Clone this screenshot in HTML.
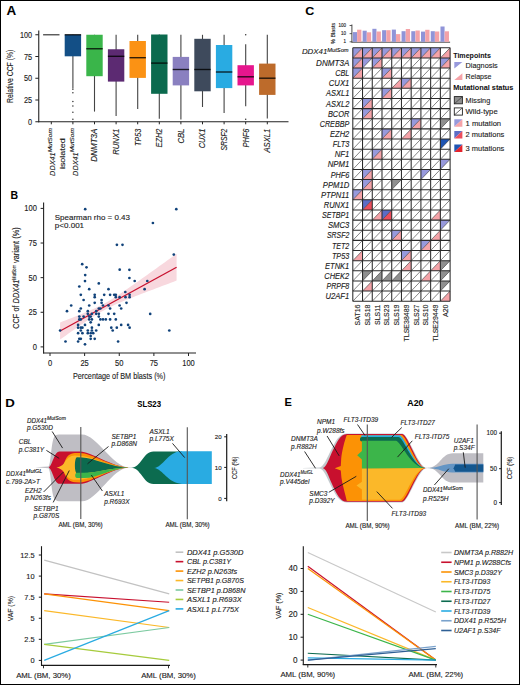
<!DOCTYPE html>
<html><head><meta charset="utf-8"><style>
html,body{margin:0;padding:0;background:#fff;}
svg{display:block;}
text{font-family:"Liberation Sans", sans-serif;stroke:#1a1a1a;stroke-width:0.12px;paint-order:stroke;}
.b{stroke-width:0.05px;}
.it{font-style:italic;}
.b{font-weight:bold;}
</style></head><body>
<svg width="520" height="685" viewBox="0 0 520 685">
<rect x="0" y="0" width="520" height="685" fill="#fff"/>

<text transform="translate(6.6,14.8) scale(1.12,1)" font-size="12" class="b">A</text>
<line x1="38.75" y1="30.4" x2="38.75" y2="122.3" stroke="#222" stroke-width="1.1"/>
<line x1="38.25" y1="121.75" x2="288.5" y2="121.75" stroke="#222" stroke-width="1.1"/>
<line x1="35.35" y1="121.75" x2="38.75" y2="121.75" stroke="#222" stroke-width="1"/>
<text x="32.1" y="124.75" font-size="8.4" text-anchor="end" fill="#1a1a1a" textLength="4.1" lengthAdjust="spacingAndGlyphs">0</text>
<line x1="35.35" y1="100.0" x2="38.75" y2="100.0" stroke="#222" stroke-width="1"/>
<text x="32.1" y="103.00" font-size="8.4" text-anchor="end" fill="#1a1a1a" textLength="8.2" lengthAdjust="spacingAndGlyphs">25</text>
<line x1="35.35" y1="78.25" x2="38.75" y2="78.25" stroke="#222" stroke-width="1"/>
<text x="32.1" y="81.25" font-size="8.4" text-anchor="end" fill="#1a1a1a" textLength="8.2" lengthAdjust="spacingAndGlyphs">50</text>
<line x1="35.35" y1="56.5" x2="38.75" y2="56.5" stroke="#222" stroke-width="1"/>
<text x="32.1" y="59.50" font-size="8.4" text-anchor="end" fill="#1a1a1a" textLength="8.2" lengthAdjust="spacingAndGlyphs">75</text>
<line x1="35.35" y1="34.75" x2="38.75" y2="34.75" stroke="#222" stroke-width="1"/>
<text x="32.1" y="37.75" font-size="8.4" text-anchor="end" fill="#1a1a1a" textLength="12.1" lengthAdjust="spacingAndGlyphs">100</text>
<text transform="translate(12.9,102.9) rotate(-90)" font-size="9" fill="#1a1a1a" textLength="53.2" lengthAdjust="spacingAndGlyphs">Relative CCF (%)</text>
<line x1="51.30" y1="121.75" x2="51.30" y2="124.3" stroke="#222" stroke-width="1"/>
<line x1="72.90" y1="121.75" x2="72.90" y2="124.3" stroke="#222" stroke-width="1"/>
<line x1="94.50" y1="121.75" x2="94.50" y2="124.3" stroke="#222" stroke-width="1"/>
<line x1="116.10" y1="121.75" x2="116.10" y2="124.3" stroke="#222" stroke-width="1"/>
<line x1="137.70" y1="121.75" x2="137.70" y2="124.3" stroke="#222" stroke-width="1"/>
<line x1="159.30" y1="121.75" x2="159.30" y2="124.3" stroke="#222" stroke-width="1"/>
<line x1="180.90" y1="121.75" x2="180.90" y2="124.3" stroke="#222" stroke-width="1"/>
<line x1="202.50" y1="121.75" x2="202.50" y2="124.3" stroke="#222" stroke-width="1"/>
<line x1="224.10" y1="121.75" x2="224.10" y2="124.3" stroke="#222" stroke-width="1"/>
<line x1="245.70" y1="121.75" x2="245.70" y2="124.3" stroke="#222" stroke-width="1"/>
<line x1="267.30" y1="121.75" x2="267.30" y2="124.3" stroke="#222" stroke-width="1"/>
<line x1="43.10" y1="34.75" x2="59.50" y2="34.75" stroke="#555" stroke-width="1.4"/>
<line x1="72.90" y1="34.75" x2="72.90" y2="88.4" stroke="#444" stroke-width="1.1"/>
<rect x="64.70" y="34.75" width="16.4" height="21.55" fill="#134f86"/>
<line x1="64.70" y1="34.75" x2="81.10" y2="34.75" stroke="#000" stroke-opacity="0.8" stroke-width="1.4"/>
<line x1="94.50" y1="34.75" x2="94.50" y2="111.6" stroke="#444" stroke-width="1.1"/>
<rect x="86.30" y="34.75" width="16.4" height="41.45" fill="#3ab54a"/>
<line x1="86.30" y1="48.75" x2="102.70" y2="48.75" stroke="#000" stroke-opacity="0.8" stroke-width="1.4"/>
<line x1="116.10" y1="34.75" x2="116.10" y2="116" stroke="#444" stroke-width="1.1"/>
<rect x="107.90" y="49.25" width="16.4" height="32.35" fill="#5c2a72"/>
<line x1="107.90" y1="56.3" x2="124.30" y2="56.3" stroke="#000" stroke-opacity="0.8" stroke-width="1.4"/>
<line x1="137.70" y1="34.8" x2="137.70" y2="108.9" stroke="#444" stroke-width="1.1"/>
<rect x="129.50" y="41" width="16.4" height="36.90" fill="#fb9214"/>
<line x1="129.50" y1="57.7" x2="145.90" y2="57.7" stroke="#000" stroke-opacity="0.8" stroke-width="1.4"/>
<line x1="159.30" y1="34.5" x2="159.30" y2="118.8" stroke="#444" stroke-width="1.1"/>
<rect x="151.10" y="34.5" width="16.4" height="59.30" fill="#0b6a4e"/>
<line x1="151.10" y1="63.1" x2="167.50" y2="63.1" stroke="#000" stroke-opacity="0.8" stroke-width="1.4"/>
<line x1="180.90" y1="34.8" x2="180.90" y2="119.6" stroke="#444" stroke-width="1.1"/>
<rect x="172.70" y="56.9" width="16.4" height="28.50" fill="#8a80c0"/>
<line x1="172.70" y1="69.5" x2="189.10" y2="69.5" stroke="#000" stroke-opacity="0.8" stroke-width="1.4"/>
<line x1="202.50" y1="34.8" x2="202.50" y2="107" stroke="#444" stroke-width="1.1"/>
<rect x="194.30" y="38.8" width="16.4" height="52.50" fill="#3e4a5c"/>
<line x1="194.30" y1="69.5" x2="210.70" y2="69.5" stroke="#000" stroke-opacity="0.8" stroke-width="1.4"/>
<line x1="224.10" y1="34.8" x2="224.10" y2="112.9" stroke="#444" stroke-width="1.1"/>
<rect x="215.90" y="45" width="16.4" height="43.10" fill="#29abe2"/>
<line x1="215.90" y1="72" x2="232.30" y2="72" stroke="#000" stroke-opacity="0.8" stroke-width="1.4"/>
<line x1="245.70" y1="44.2" x2="245.70" y2="106.2" stroke="#444" stroke-width="1.1"/>
<rect x="237.50" y="65.2" width="16.4" height="20.20" fill="#e6168d"/>
<line x1="237.50" y1="76.8" x2="253.90" y2="76.8" stroke="#000" stroke-opacity="0.8" stroke-width="1.4"/>
<line x1="267.30" y1="34.7" x2="267.30" y2="118.6" stroke="#444" stroke-width="1.1"/>
<rect x="259.10" y="63.6" width="16.4" height="31.30" fill="#bd6b2b"/>
<line x1="259.10" y1="78.2" x2="275.50" y2="78.2" stroke="#000" stroke-opacity="0.8" stroke-width="1.4"/>
<circle cx="72.90" cy="89.2" r="0.75" fill="#333"/>
<circle cx="72.90" cy="92.8" r="0.75" fill="#333"/>
<circle cx="72.90" cy="101.4" r="0.75" fill="#333"/>
<circle cx="72.90" cy="105.9" r="0.75" fill="#333"/>
<circle cx="72.90" cy="112.2" r="0.75" fill="#333"/>
<circle cx="72.90" cy="119.3" r="0.75" fill="#333"/>
<circle cx="245.70" cy="34.8" r="0.75" fill="#333"/>
<circle cx="245.70" cy="119.2" r="0.75" fill="#333"/>
<text transform="translate(55.10,175.9) rotate(-90)" font-size="8" class="it" fill="#1a1a1a"><tspan textLength="23.6" lengthAdjust="spacingAndGlyphs">DDX41</tspan><tspan font-size="5" dy="-3.4" textLength="24.2" lengthAdjust="spacingAndGlyphs">MutSom</tspan></text>
<text transform="translate(77.70,175.9) rotate(-90)" font-size="8" class="it" fill="#1a1a1a"><tspan textLength="23.6" lengthAdjust="spacingAndGlyphs">DDX41</tspan><tspan font-size="5" dy="-3.4" textLength="24.2" lengthAdjust="spacingAndGlyphs">MutSom</tspan></text>
<text transform="translate(64.9,169.1) rotate(-90)" font-size="8" fill="#1a1a1a" textLength="30.9" lengthAdjust="spacingAndGlyphs">isolated</text>
<text transform="translate(97.45,161.70) rotate(-90)" font-size="8.2" class="it" fill="#1a1a1a" textLength="33.1" lengthAdjust="spacingAndGlyphs">DNMT3A</text>
<text transform="translate(119.05,154.80) rotate(-90)" font-size="8.2" class="it" fill="#1a1a1a" textLength="26.2" lengthAdjust="spacingAndGlyphs">RUNX1</text>
<text transform="translate(140.65,145.90) rotate(-90)" font-size="8.2" class="it" fill="#1a1a1a" textLength="17.3" lengthAdjust="spacingAndGlyphs">TP53</text>
<text transform="translate(162.25,147.50) rotate(-90)" font-size="8.2" class="it" fill="#1a1a1a" textLength="18.9" lengthAdjust="spacingAndGlyphs">EZH2</text>
<text transform="translate(183.85,143.60) rotate(-90)" font-size="8.2" class="it" fill="#1a1a1a" textLength="15" lengthAdjust="spacingAndGlyphs">CBL</text>
<text transform="translate(205.45,148.30) rotate(-90)" font-size="8.2" class="it" fill="#1a1a1a" textLength="19.7" lengthAdjust="spacingAndGlyphs">CUX1</text>
<text transform="translate(227.05,150.60) rotate(-90)" font-size="8.2" class="it" fill="#1a1a1a" textLength="22" lengthAdjust="spacingAndGlyphs">SRSF2</text>
<text transform="translate(248.65,147.50) rotate(-90)" font-size="8.2" class="it" fill="#1a1a1a" textLength="18.9" lengthAdjust="spacingAndGlyphs">PHF6</text>
<text transform="translate(270.25,152.50) rotate(-90)" font-size="8.2" class="it" fill="#1a1a1a" textLength="23.9" lengthAdjust="spacingAndGlyphs">ASXL1</text>
<text x="10.5" y="198.7" font-size="10.5" class="b">B</text>
<line x1="43.6" y1="202.5" x2="43.6" y2="353.6" stroke="#222" stroke-width="1.1"/>
<line x1="43.1" y1="353" x2="196" y2="353" stroke="#222" stroke-width="1.1"/>
<line x1="40.6" y1="346.90" x2="43.6" y2="346.90" stroke="#222" stroke-width="1"/>
<text x="36.9" y="349.90" font-size="8.4" text-anchor="end" fill="#1a1a1a" textLength="4.2" lengthAdjust="spacingAndGlyphs">0</text>
<line x1="50.00" y1="353" x2="50.00" y2="356" stroke="#222" stroke-width="1"/>
<text x="50.00" y="365.8" font-size="8.2" text-anchor="middle" fill="#1a1a1a" textLength="4.2" lengthAdjust="spacingAndGlyphs">0</text>
<line x1="40.6" y1="312.27" x2="43.6" y2="312.27" stroke="#222" stroke-width="1"/>
<text x="36.9" y="315.27" font-size="8.4" text-anchor="end" fill="#1a1a1a" textLength="8.4" lengthAdjust="spacingAndGlyphs">25</text>
<line x1="84.62" y1="353" x2="84.62" y2="356" stroke="#222" stroke-width="1"/>
<text x="84.62" y="365.8" font-size="8.2" text-anchor="middle" fill="#1a1a1a" textLength="8.4" lengthAdjust="spacingAndGlyphs">25</text>
<line x1="40.6" y1="277.65" x2="43.6" y2="277.65" stroke="#222" stroke-width="1"/>
<text x="36.9" y="280.65" font-size="8.4" text-anchor="end" fill="#1a1a1a" textLength="8.4" lengthAdjust="spacingAndGlyphs">50</text>
<line x1="119.25" y1="353" x2="119.25" y2="356" stroke="#222" stroke-width="1"/>
<text x="119.25" y="365.8" font-size="8.2" text-anchor="middle" fill="#1a1a1a" textLength="8.4" lengthAdjust="spacingAndGlyphs">50</text>
<line x1="40.6" y1="243.02" x2="43.6" y2="243.02" stroke="#222" stroke-width="1"/>
<text x="36.9" y="246.02" font-size="8.4" text-anchor="end" fill="#1a1a1a" textLength="8.4" lengthAdjust="spacingAndGlyphs">75</text>
<line x1="153.88" y1="353" x2="153.88" y2="356" stroke="#222" stroke-width="1"/>
<text x="153.88" y="365.8" font-size="8.2" text-anchor="middle" fill="#1a1a1a" textLength="8.4" lengthAdjust="spacingAndGlyphs">75</text>
<line x1="40.6" y1="208.40" x2="43.6" y2="208.40" stroke="#222" stroke-width="1"/>
<text x="36.9" y="211.40" font-size="8.4" text-anchor="end" fill="#1a1a1a" textLength="12.6" lengthAdjust="spacingAndGlyphs">100</text>
<line x1="188.50" y1="353" x2="188.50" y2="356" stroke="#222" stroke-width="1"/>
<text x="188.50" y="365.8" font-size="8.2" text-anchor="middle" fill="#1a1a1a" textLength="12.5" lengthAdjust="spacingAndGlyphs">100</text>
<text x="72.9" y="379" font-size="9.8" fill="#1a1a1a" textLength="92.6" lengthAdjust="spacingAndGlyphs">Percentage of BM blasts (%)</text>
<text transform="translate(19.2,328.8) rotate(-90)" font-size="9" fill="#1a1a1a" textLength="101.5" lengthAdjust="spacingAndGlyphs">CCF of <tspan class="it">DDX41</tspan><tspan font-size="4.8" dy="-3.4">MutSom</tspan><tspan dy="3.4"> variant (%)</tspan></text>
<text x="54.8" y="219.7" font-size="7.6" fill="#1a1a1a" textLength="75.2" lengthAdjust="spacingAndGlyphs">Spearman rho = 0.43</text>
<text x="54.8" y="228.4" font-size="7.6" fill="#1a1a1a" textLength="29.3" lengthAdjust="spacingAndGlyphs">p&lt;0.001</text>
<path d="M60.10,322.48 L63.01,321.36 L65.92,320.23 L68.84,319.10 L71.75,317.97 L74.66,316.82 L77.58,315.66 L80.49,314.48 L83.40,313.28 L86.31,312.06 L89.22,310.81 L92.14,309.52 L95.05,308.18 L97.96,306.78 L100.88,305.31 L103.79,303.76 L106.70,302.13 L109.61,300.42 L112.53,298.64 L115.44,296.80 L118.35,294.91 L121.26,292.97 L124.18,291.01 L127.09,289.02 L130.00,287.01 L132.91,284.98 L135.82,282.94 L138.74,280.89 L141.65,278.83 L144.56,276.77 L147.47,274.70 L150.39,272.62 L153.30,270.54 L156.21,268.45 L159.12,266.37 L162.04,264.28 L164.95,262.18 L167.86,260.09 L170.78,257.99 L173.69,255.90 L176.60,253.80 L176.60,280.60 L173.69,281.69 L170.78,282.79 L167.86,283.88 L164.95,284.98 L162.04,286.07 L159.12,287.17 L156.21,288.28 L153.30,289.38 L150.39,290.49 L147.47,291.60 L144.56,292.72 L141.65,293.85 L138.74,294.98 L135.82,296.12 L132.91,297.27 L130.00,298.43 L127.09,299.61 L124.18,300.81 L121.26,302.04 L118.35,303.29 L115.44,304.59 L112.53,305.94 L109.61,307.35 L106.70,308.83 L103.79,310.39 L100.88,312.03 L97.96,313.75 L95.05,315.54 L92.14,317.39 L89.22,319.29 L86.31,321.23 L83.40,323.20 L80.49,325.19 L77.58,327.20 L74.66,329.23 L71.75,331.27 L68.84,333.33 L65.92,335.39 L63.01,337.45 L60.10,339.52 Z" fill="#f8d8de"/>
<line x1="60.1" y1="331.0" x2="176.6" y2="267.2" stroke="#c8102e" stroke-width="1.3"/>
<circle cx="85.2" cy="209.2" r="1.35" fill="#10427a"/>
<circle cx="176.3" cy="209.2" r="1.35" fill="#10427a"/>
<circle cx="152.9" cy="223" r="1.35" fill="#10427a"/>
<circle cx="116.9" cy="244.8" r="1.35" fill="#10427a"/>
<circle cx="122.5" cy="244.8" r="1.35" fill="#10427a"/>
<circle cx="173.8" cy="254.6" r="1.35" fill="#10427a"/>
<circle cx="82.2" cy="264.2" r="1.35" fill="#10427a"/>
<circle cx="86.5" cy="267.3" r="1.35" fill="#10427a"/>
<circle cx="119.7" cy="269.7" r="1.35" fill="#10427a"/>
<circle cx="129.4" cy="269.8" r="1.35" fill="#10427a"/>
<circle cx="85.2" cy="275.1" r="1.35" fill="#10427a"/>
<circle cx="129.4" cy="278" r="1.35" fill="#10427a"/>
<circle cx="134.7" cy="281" r="1.35" fill="#10427a"/>
<circle cx="147.3" cy="281" r="1.35" fill="#10427a"/>
<circle cx="144.6" cy="289.2" r="1.35" fill="#10427a"/>
<circle cx="150.2" cy="313.9" r="1.35" fill="#10427a"/>
<circle cx="169.3" cy="330.5" r="1.35" fill="#10427a"/>
<circle cx="85" cy="281.1" r="1.35" fill="#10427a"/>
<circle cx="98.8" cy="283.4" r="1.35" fill="#10427a"/>
<circle cx="79.3" cy="286.5" r="1.35" fill="#10427a"/>
<circle cx="89.2" cy="289.2" r="1.35" fill="#10427a"/>
<circle cx="108.5" cy="289.2" r="1.35" fill="#10427a"/>
<circle cx="80.8" cy="294.8" r="1.35" fill="#10427a"/>
<circle cx="94.7" cy="294.8" r="1.35" fill="#10427a"/>
<circle cx="94.7" cy="297.2" r="1.35" fill="#10427a"/>
<circle cx="104.2" cy="294.8" r="1.35" fill="#10427a"/>
<circle cx="110.1" cy="294.8" r="1.35" fill="#10427a"/>
<circle cx="114.2" cy="294.8" r="1.35" fill="#10427a"/>
<circle cx="115.8" cy="294.8" r="1.35" fill="#10427a"/>
<circle cx="115.8" cy="297.2" r="1.35" fill="#10427a"/>
<circle cx="119.6" cy="297.2" r="1.35" fill="#10427a"/>
<circle cx="125.3" cy="292" r="1.35" fill="#10427a"/>
<circle cx="125.5" cy="297.2" r="1.35" fill="#10427a"/>
<circle cx="129.6" cy="294.8" r="1.35" fill="#10427a"/>
<circle cx="129.6" cy="297.2" r="1.35" fill="#10427a"/>
<circle cx="83.6" cy="300" r="1.35" fill="#10427a"/>
<circle cx="94.7" cy="302.8" r="1.35" fill="#10427a"/>
<circle cx="101.6" cy="300" r="1.35" fill="#10427a"/>
<circle cx="101.6" cy="302.8" r="1.35" fill="#10427a"/>
<circle cx="126.5" cy="302.8" r="1.35" fill="#10427a"/>
<circle cx="71.2" cy="305.5" r="1.35" fill="#10427a"/>
<circle cx="89.2" cy="305.5" r="1.35" fill="#10427a"/>
<circle cx="103" cy="305.5" r="1.35" fill="#10427a"/>
<circle cx="108.5" cy="305.5" r="1.35" fill="#10427a"/>
<circle cx="119.6" cy="305.5" r="1.35" fill="#10427a"/>
<circle cx="80.8" cy="308.5" r="1.35" fill="#10427a"/>
<circle cx="79.3" cy="311.2" r="1.35" fill="#10427a"/>
<circle cx="67" cy="311.2" r="1.35" fill="#10427a"/>
<circle cx="98.8" cy="308.5" r="1.35" fill="#10427a"/>
<circle cx="100.4" cy="308.5" r="1.35" fill="#10427a"/>
<circle cx="110.1" cy="308.5" r="1.35" fill="#10427a"/>
<circle cx="121.2" cy="308.5" r="1.35" fill="#10427a"/>
<circle cx="87.8" cy="311.2" r="1.35" fill="#10427a"/>
<circle cx="87.8" cy="313.8" r="1.35" fill="#10427a"/>
<circle cx="91.9" cy="313.8" r="1.35" fill="#10427a"/>
<circle cx="96.2" cy="311.2" r="1.35" fill="#10427a"/>
<circle cx="96.2" cy="313.8" r="1.35" fill="#10427a"/>
<circle cx="98.8" cy="313.8" r="1.35" fill="#10427a"/>
<circle cx="108.5" cy="313.8" r="1.35" fill="#10427a"/>
<circle cx="114.2" cy="313.8" r="1.35" fill="#10427a"/>
<circle cx="79.3" cy="316.6" r="1.35" fill="#10427a"/>
<circle cx="83.6" cy="316.6" r="1.35" fill="#10427a"/>
<circle cx="79.3" cy="319.4" r="1.35" fill="#10427a"/>
<circle cx="80.8" cy="319.4" r="1.35" fill="#10427a"/>
<circle cx="89.2" cy="316.6" r="1.35" fill="#10427a"/>
<circle cx="90.7" cy="316.6" r="1.35" fill="#10427a"/>
<circle cx="89.2" cy="319.4" r="1.35" fill="#10427a"/>
<circle cx="91.9" cy="319.4" r="1.35" fill="#10427a"/>
<circle cx="90.7" cy="322.3" r="1.35" fill="#10427a"/>
<circle cx="98.8" cy="316.6" r="1.35" fill="#10427a"/>
<circle cx="100.4" cy="319.4" r="1.35" fill="#10427a"/>
<circle cx="103" cy="319.4" r="1.35" fill="#10427a"/>
<circle cx="105.8" cy="319.4" r="1.35" fill="#10427a"/>
<circle cx="110.1" cy="319.4" r="1.35" fill="#10427a"/>
<circle cx="115.8" cy="319.4" r="1.35" fill="#10427a"/>
<circle cx="78.1" cy="324.9" r="1.35" fill="#10427a"/>
<circle cx="85" cy="324.9" r="1.35" fill="#10427a"/>
<circle cx="98.8" cy="324.9" r="1.35" fill="#10427a"/>
<circle cx="121.2" cy="324.9" r="1.35" fill="#10427a"/>
<circle cx="128.1" cy="324.9" r="1.35" fill="#10427a"/>
<circle cx="78.1" cy="327.7" r="1.35" fill="#10427a"/>
<circle cx="80.8" cy="327.7" r="1.35" fill="#10427a"/>
<circle cx="82.4" cy="327.7" r="1.35" fill="#10427a"/>
<circle cx="91.9" cy="327.7" r="1.35" fill="#10427a"/>
<circle cx="111.3" cy="327.7" r="1.35" fill="#10427a"/>
<circle cx="116.8" cy="327.7" r="1.35" fill="#10427a"/>
<circle cx="129.6" cy="327.7" r="1.35" fill="#10427a"/>
<circle cx="60.1" cy="330.5" r="1.35" fill="#10427a"/>
<circle cx="80.8" cy="330.5" r="1.35" fill="#10427a"/>
<circle cx="87.8" cy="330.5" r="1.35" fill="#10427a"/>
<circle cx="91.9" cy="330.5" r="1.35" fill="#10427a"/>
<circle cx="96.2" cy="330.5" r="1.35" fill="#10427a"/>
<circle cx="112.7" cy="330.5" r="1.35" fill="#10427a"/>
<circle cx="78.1" cy="333.2" r="1.35" fill="#10427a"/>
<circle cx="82.4" cy="333.2" r="1.35" fill="#10427a"/>
<circle cx="87.8" cy="333.2" r="1.35" fill="#10427a"/>
<circle cx="90.7" cy="333.2" r="1.35" fill="#10427a"/>
<circle cx="93.2" cy="333.2" r="1.35" fill="#10427a"/>
<circle cx="90.7" cy="336" r="1.35" fill="#10427a"/>
<circle cx="79.3" cy="338.8" r="1.35" fill="#10427a"/>
<circle cx="80.8" cy="338.8" r="1.35" fill="#10427a"/>
<circle cx="90.7" cy="338.8" r="1.35" fill="#10427a"/>
<circle cx="94.7" cy="338.8" r="1.35" fill="#10427a"/>
<circle cx="65.5" cy="341.5" r="1.35" fill="#10427a"/>
<circle cx="78.1" cy="341.5" r="1.35" fill="#10427a"/>
<circle cx="118.1" cy="341.5" r="1.35" fill="#10427a"/>
<circle cx="85" cy="344.3" r="1.35" fill="#10427a"/>
<text transform="translate(305.3,15) scale(1.12,1)" font-size="11.2" class="b">C</text>
<polygon points="352.80,47.80 362.53,47.80 352.80,57.94" fill="#9799dc"/>
<polygon points="362.53,47.80 362.53,57.94 352.80,57.94" fill="#f5a3a8"/>
<polygon points="362.53,47.80 372.26,47.80 362.53,57.94" fill="#9799dc"/>
<polygon points="372.26,47.80 372.26,57.94 362.53,57.94" fill="#f5a3a8"/>
<polygon points="372.26,47.80 381.99,47.80 372.26,57.94" fill="#9799dc"/>
<polygon points="381.99,47.80 381.99,57.94 372.26,57.94" fill="#f5a3a8"/>
<polygon points="381.99,47.80 391.72,47.80 381.99,57.94" fill="#9799dc"/>
<polygon points="391.72,47.80 391.72,57.94 381.99,57.94" fill="#f5a3a8"/>
<polygon points="391.72,47.80 401.45,47.80 391.72,57.94" fill="#9799dc"/>
<polygon points="401.45,47.80 401.45,57.94 391.72,57.94" fill="#f5a3a8"/>
<polygon points="401.45,47.80 411.18,47.80 401.45,57.94" fill="#9799dc"/>
<polygon points="411.18,47.80 411.18,57.94 401.45,57.94" fill="#f5a3a8"/>
<polygon points="411.18,47.80 420.91,47.80 411.18,57.94" fill="#9799dc"/>
<polygon points="420.91,47.80 420.91,57.94 411.18,57.94" fill="#f5a3a8"/>
<polygon points="420.91,47.80 430.64,47.80 420.91,57.94" fill="#9799dc"/>
<polygon points="430.64,47.80 430.64,57.94 420.91,57.94" fill="#f5a3a8"/>
<polygon points="430.64,47.80 440.37,47.80 430.64,57.94" fill="#9799dc"/>
<polygon points="440.37,47.80 440.37,57.94 430.64,57.94" fill="#f5a3a8"/>
<polygon points="450.10,47.80 450.10,57.94 440.37,57.94" fill="#f5a3a8"/>
<polygon points="352.80,57.94 362.53,57.94 352.80,68.07" fill="#9799dc"/>
<polygon points="362.53,57.94 362.53,68.07 352.80,68.07" fill="#f5a3a8"/>
<polygon points="362.53,57.94 372.26,57.94 362.53,68.07" fill="#9799dc"/>
<polygon points="372.26,57.94 381.99,57.94 372.26,68.07" fill="#9799dc"/>
<polygon points="381.99,57.94 381.99,68.07 372.26,68.07" fill="#f5a3a8"/>
<polygon points="440.37,57.94 450.10,57.94 440.37,68.07" fill="#9799dc"/>
<polygon points="450.10,57.94 450.10,68.07 440.37,68.07" fill="#f5a3a8"/>
<polygon points="352.80,68.07 362.53,68.07 352.80,78.21" fill="#9799dc"/>
<polygon points="362.53,68.07 362.53,78.21 352.80,78.21" fill="#f5a3a8"/>
<polygon points="381.99,68.07 391.72,68.07 381.99,78.21" fill="#9799dc"/>
<polygon points="391.72,68.07 391.72,78.21 381.99,78.21" fill="#f5a3a8"/>
<polygon points="401.45,78.21 401.45,88.34 391.72,88.34" fill="#f5a3a8"/>
<polygon points="401.45,78.21 411.18,78.21 401.45,88.34" fill="#9799dc"/>
<polygon points="411.18,78.21 411.18,88.34 401.45,88.34" fill="#f5a3a8"/>
<polygon points="381.99,88.34 391.72,88.34 381.99,98.48" fill="#9799dc"/>
<polygon points="391.72,88.34 391.72,98.48 381.99,98.48" fill="#f5a3a8"/>
<polygon points="362.53,98.48 372.26,98.48 362.53,108.62" fill="#9799dc"/>
<polygon points="372.26,98.48 372.26,108.62 362.53,108.62" fill="#f5a3a8"/>
<polygon points="362.53,108.62 372.26,108.62 362.53,118.75" fill="#9799dc"/>
<polygon points="372.26,108.62 372.26,118.75 362.53,118.75" fill="#f5a3a8"/>
<polygon points="411.18,118.75 420.91,118.75 411.18,128.89" fill="#9799dc"/>
<polygon points="420.91,118.75 420.91,128.89 411.18,128.89" fill="#f5a3a8"/>
<polygon points="440.37,118.75 450.10,118.75 440.37,128.89" fill="#8f8f8f"/>
<polygon points="381.99,128.89 391.72,128.89 381.99,139.02" fill="#9799dc"/>
<polygon points="391.72,128.89 391.72,139.02 381.99,139.02" fill="#f5a3a8"/>
<polygon points="411.18,128.89 411.18,139.02 401.45,139.02" fill="#f5a3a8"/>
<polygon points="440.37,139.02 450.10,139.02 440.37,149.16" fill="#1f55b3"/>
<polygon points="372.26,149.16 381.99,149.16 372.26,159.30" fill="#9799dc"/>
<polygon points="381.99,149.16 381.99,159.30 372.26,159.30" fill="#f5a3a8"/>
<polygon points="440.37,159.30 450.10,159.30 440.37,169.43" fill="#9799dc"/>
<polygon points="362.53,169.43 372.26,169.43 362.53,179.57" fill="#9799dc"/>
<polygon points="372.26,169.43 372.26,179.57 362.53,179.57" fill="#f5a3a8"/>
<polygon points="420.91,169.43 430.64,169.43 420.91,179.57" fill="#9799dc"/>
<polygon points="362.53,179.57 372.26,179.57 362.53,189.70" fill="#9799dc"/>
<polygon points="372.26,179.57 372.26,189.70 362.53,189.70" fill="#f5a3a8"/>
<polygon points="391.72,179.57 401.45,179.57 391.72,189.70" fill="#8f8f8f"/>
<polygon points="352.80,189.70 362.53,189.70 352.80,199.84" fill="#9799dc"/>
<polygon points="362.53,189.70 362.53,199.84 352.80,199.84" fill="#f5a3a8"/>
<polygon points="362.53,199.84 372.26,199.84 362.53,209.98" fill="#5c6cc6"/>
<polygon points="372.26,199.84 372.26,209.98 362.53,209.98" fill="#ec4d5c"/>
<polygon points="381.99,209.98 381.99,220.11 372.26,220.11" fill="#f5a3a8"/>
<polygon points="381.99,209.98 391.72,209.98 381.99,220.11" fill="#5c6cc6"/>
<polygon points="391.72,209.98 391.72,220.11 381.99,220.11" fill="#ec4d5c"/>
<polygon points="440.37,209.98 440.37,220.11 430.64,220.11" fill="#f5a3a8"/>
<polygon points="440.37,220.11 450.10,220.11 440.37,230.25" fill="#9799dc"/>
<polygon points="391.72,230.25 401.45,230.25 391.72,240.38" fill="#9799dc"/>
<polygon points="401.45,230.25 401.45,240.38 391.72,240.38" fill="#f5a3a8"/>
<polygon points="440.37,230.25 440.37,240.38 430.64,240.38" fill="#f5a3a8"/>
<polygon points="420.91,240.38 430.64,240.38 420.91,250.52" fill="#9799dc"/>
<polygon points="430.64,240.38 430.64,250.52 420.91,250.52" fill="#f5a3a8"/>
<polygon points="362.53,250.52 362.53,260.66 352.80,260.66" fill="#f5a3a8"/>
<polygon points="401.45,250.52 411.18,250.52 401.45,260.66" fill="#9799dc"/>
<polygon points="411.18,250.52 411.18,260.66 401.45,260.66" fill="#f5a3a8"/>
<polygon points="411.18,260.66 411.18,270.79 401.45,270.79" fill="#f5a3a8"/>
<polygon points="440.37,260.66 440.37,270.79 430.64,270.79" fill="#f5a3a8"/>
<polygon points="440.37,260.66 450.10,260.66 440.37,270.79" fill="#8f8f8f"/>
<polygon points="362.53,270.79 372.26,270.79 362.53,280.93" fill="#8f8f8f"/>
<polygon points="381.99,270.79 381.99,280.93 372.26,280.93" fill="#8f8f8f"/>
<polygon points="391.72,270.79 391.72,280.93 381.99,280.93" fill="#8f8f8f"/>
<polygon points="401.45,270.79 401.45,280.93 391.72,280.93" fill="#8f8f8f"/>
<polygon points="430.64,270.79 430.64,280.93 420.91,280.93" fill="#f5a3a8"/>
<polygon points="440.37,270.79 450.10,270.79 440.37,280.93" fill="#8f8f8f"/>
<polygon points="372.26,280.93 372.26,291.06 362.53,291.06" fill="#f5a3a8"/>
<polygon points="440.37,280.93 450.10,280.93 440.37,291.06" fill="#8f8f8f"/>
<polygon points="450.10,291.06 450.10,301.20 440.37,301.20" fill="#f5a3a8"/>
<path d="M352.80,57.94L362.53,47.80M362.53,57.94L372.26,47.80M372.26,57.94L381.99,47.80M381.99,57.94L391.72,47.80M391.72,57.94L401.45,47.80M401.45,57.94L411.18,47.80M411.18,57.94L420.91,47.80M420.91,57.94L430.64,47.80M430.64,57.94L440.37,47.80M440.37,57.94L450.10,47.80M352.80,68.07L362.53,57.94M362.53,68.07L372.26,57.94M372.26,68.07L381.99,57.94M381.99,68.07L391.72,57.94M391.72,68.07L401.45,57.94M401.45,68.07L411.18,57.94M411.18,68.07L420.91,57.94M420.91,68.07L430.64,57.94M430.64,68.07L440.37,57.94M440.37,68.07L450.10,57.94M352.80,78.21L362.53,68.07M362.53,78.21L372.26,68.07M372.26,78.21L381.99,68.07M381.99,78.21L391.72,68.07M391.72,78.21L401.45,68.07M401.45,78.21L411.18,68.07M411.18,78.21L420.91,68.07M420.91,78.21L430.64,68.07M430.64,78.21L440.37,68.07M440.37,78.21L450.10,68.07M352.80,88.34L362.53,78.21M362.53,88.34L372.26,78.21M372.26,88.34L381.99,78.21M381.99,88.34L391.72,78.21M391.72,88.34L401.45,78.21M401.45,88.34L411.18,78.21M411.18,88.34L420.91,78.21M420.91,88.34L430.64,78.21M430.64,88.34L440.37,78.21M440.37,88.34L450.10,78.21M352.80,98.48L362.53,88.34M362.53,98.48L372.26,88.34M372.26,98.48L381.99,88.34M381.99,98.48L391.72,88.34M391.72,98.48L401.45,88.34M401.45,98.48L411.18,88.34M411.18,98.48L420.91,88.34M420.91,98.48L430.64,88.34M430.64,98.48L440.37,88.34M440.37,98.48L450.10,88.34M352.80,108.62L362.53,98.48M362.53,108.62L372.26,98.48M372.26,108.62L381.99,98.48M381.99,108.62L391.72,98.48M391.72,108.62L401.45,98.48M401.45,108.62L411.18,98.48M411.18,108.62L420.91,98.48M420.91,108.62L430.64,98.48M430.64,108.62L440.37,98.48M440.37,108.62L450.10,98.48M352.80,118.75L362.53,108.62M362.53,118.75L372.26,108.62M372.26,118.75L381.99,108.62M381.99,118.75L391.72,108.62M391.72,118.75L401.45,108.62M401.45,118.75L411.18,108.62M411.18,118.75L420.91,108.62M420.91,118.75L430.64,108.62M430.64,118.75L440.37,108.62M440.37,118.75L450.10,108.62M352.80,128.89L362.53,118.75M362.53,128.89L372.26,118.75M372.26,128.89L381.99,118.75M381.99,128.89L391.72,118.75M391.72,128.89L401.45,118.75M401.45,128.89L411.18,118.75M411.18,128.89L420.91,118.75M420.91,128.89L430.64,118.75M430.64,128.89L440.37,118.75M440.37,128.89L450.10,118.75M352.80,139.02L362.53,128.89M362.53,139.02L372.26,128.89M372.26,139.02L381.99,128.89M381.99,139.02L391.72,128.89M391.72,139.02L401.45,128.89M401.45,139.02L411.18,128.89M411.18,139.02L420.91,128.89M420.91,139.02L430.64,128.89M430.64,139.02L440.37,128.89M440.37,139.02L450.10,128.89M352.80,149.16L362.53,139.02M362.53,149.16L372.26,139.02M372.26,149.16L381.99,139.02M381.99,149.16L391.72,139.02M391.72,149.16L401.45,139.02M401.45,149.16L411.18,139.02M411.18,149.16L420.91,139.02M420.91,149.16L430.64,139.02M430.64,149.16L440.37,139.02M440.37,149.16L450.10,139.02M352.80,159.30L362.53,149.16M362.53,159.30L372.26,149.16M372.26,159.30L381.99,149.16M381.99,159.30L391.72,149.16M391.72,159.30L401.45,149.16M401.45,159.30L411.18,149.16M411.18,159.30L420.91,149.16M420.91,159.30L430.64,149.16M430.64,159.30L440.37,149.16M440.37,159.30L450.10,149.16M352.80,169.43L362.53,159.30M362.53,169.43L372.26,159.30M372.26,169.43L381.99,159.30M381.99,169.43L391.72,159.30M391.72,169.43L401.45,159.30M401.45,169.43L411.18,159.30M411.18,169.43L420.91,159.30M420.91,169.43L430.64,159.30M430.64,169.43L440.37,159.30M440.37,169.43L450.10,159.30M352.80,179.57L362.53,169.43M362.53,179.57L372.26,169.43M372.26,179.57L381.99,169.43M381.99,179.57L391.72,169.43M391.72,179.57L401.45,169.43M401.45,179.57L411.18,169.43M411.18,179.57L420.91,169.43M420.91,179.57L430.64,169.43M430.64,179.57L440.37,169.43M440.37,179.57L450.10,169.43M352.80,189.70L362.53,179.57M362.53,189.70L372.26,179.57M372.26,189.70L381.99,179.57M381.99,189.70L391.72,179.57M391.72,189.70L401.45,179.57M401.45,189.70L411.18,179.57M411.18,189.70L420.91,179.57M420.91,189.70L430.64,179.57M430.64,189.70L440.37,179.57M440.37,189.70L450.10,179.57M352.80,199.84L362.53,189.70M362.53,199.84L372.26,189.70M372.26,199.84L381.99,189.70M381.99,199.84L391.72,189.70M391.72,199.84L401.45,189.70M401.45,199.84L411.18,189.70M411.18,199.84L420.91,189.70M420.91,199.84L430.64,189.70M430.64,199.84L440.37,189.70M440.37,199.84L450.10,189.70M352.80,209.98L362.53,199.84M362.53,209.98L372.26,199.84M372.26,209.98L381.99,199.84M381.99,209.98L391.72,199.84M391.72,209.98L401.45,199.84M401.45,209.98L411.18,199.84M411.18,209.98L420.91,199.84M420.91,209.98L430.64,199.84M430.64,209.98L440.37,199.84M440.37,209.98L450.10,199.84M352.80,220.11L362.53,209.98M362.53,220.11L372.26,209.98M372.26,220.11L381.99,209.98M381.99,220.11L391.72,209.98M391.72,220.11L401.45,209.98M401.45,220.11L411.18,209.98M411.18,220.11L420.91,209.98M420.91,220.11L430.64,209.98M430.64,220.11L440.37,209.98M440.37,220.11L450.10,209.98M352.80,230.25L362.53,220.11M362.53,230.25L372.26,220.11M372.26,230.25L381.99,220.11M381.99,230.25L391.72,220.11M391.72,230.25L401.45,220.11M401.45,230.25L411.18,220.11M411.18,230.25L420.91,220.11M420.91,230.25L430.64,220.11M430.64,230.25L440.37,220.11M440.37,230.25L450.10,220.11M352.80,240.38L362.53,230.25M362.53,240.38L372.26,230.25M372.26,240.38L381.99,230.25M381.99,240.38L391.72,230.25M391.72,240.38L401.45,230.25M401.45,240.38L411.18,230.25M411.18,240.38L420.91,230.25M420.91,240.38L430.64,230.25M430.64,240.38L440.37,230.25M440.37,240.38L450.10,230.25M352.80,250.52L362.53,240.38M362.53,250.52L372.26,240.38M372.26,250.52L381.99,240.38M381.99,250.52L391.72,240.38M391.72,250.52L401.45,240.38M401.45,250.52L411.18,240.38M411.18,250.52L420.91,240.38M420.91,250.52L430.64,240.38M430.64,250.52L440.37,240.38M440.37,250.52L450.10,240.38M352.80,260.66L362.53,250.52M362.53,260.66L372.26,250.52M372.26,260.66L381.99,250.52M381.99,260.66L391.72,250.52M391.72,260.66L401.45,250.52M401.45,260.66L411.18,250.52M411.18,260.66L420.91,250.52M420.91,260.66L430.64,250.52M430.64,260.66L440.37,250.52M440.37,260.66L450.10,250.52M352.80,270.79L362.53,260.66M362.53,270.79L372.26,260.66M372.26,270.79L381.99,260.66M381.99,270.79L391.72,260.66M391.72,270.79L401.45,260.66M401.45,270.79L411.18,260.66M411.18,270.79L420.91,260.66M420.91,270.79L430.64,260.66M430.64,270.79L440.37,260.66M440.37,270.79L450.10,260.66M352.80,280.93L362.53,270.79M362.53,280.93L372.26,270.79M372.26,280.93L381.99,270.79M381.99,280.93L391.72,270.79M391.72,280.93L401.45,270.79M401.45,280.93L411.18,270.79M411.18,280.93L420.91,270.79M420.91,280.93L430.64,270.79M430.64,280.93L440.37,270.79M440.37,280.93L450.10,270.79M352.80,291.06L362.53,280.93M362.53,291.06L372.26,280.93M372.26,291.06L381.99,280.93M381.99,291.06L391.72,280.93M391.72,291.06L401.45,280.93M401.45,291.06L411.18,280.93M411.18,291.06L420.91,280.93M420.91,291.06L430.64,280.93M430.64,291.06L440.37,280.93M440.37,291.06L450.10,280.93M352.80,301.20L362.53,291.06M362.53,301.20L372.26,291.06M372.26,301.20L381.99,291.06M381.99,301.20L391.72,291.06M391.72,301.20L401.45,291.06M401.45,301.20L411.18,291.06M411.18,301.20L420.91,291.06M420.91,301.20L430.64,291.06M430.64,301.20L440.37,291.06M440.37,301.20L450.10,291.06" stroke="#333" stroke-width="0.6" fill="none"/>
<path d="M352.80,47.80V301.20M362.53,47.80V301.20M372.26,47.80V301.20M381.99,47.80V301.20M391.72,47.80V301.20M401.45,47.80V301.20M411.18,47.80V301.20M420.91,47.80V301.20M430.64,47.80V301.20M440.37,47.80V301.20M450.10,47.80V301.20M352.80,47.80H450.10M352.80,57.94H450.10M352.80,68.07H450.10M352.80,78.21H450.10M352.80,88.34H450.10M352.80,98.48H450.10M352.80,108.62H450.10M352.80,118.75H450.10M352.80,128.89H450.10M352.80,139.02H450.10M352.80,149.16H450.10M352.80,159.30H450.10M352.80,169.43H450.10M352.80,179.57H450.10M352.80,189.70H450.10M352.80,199.84H450.10M352.80,209.98H450.10M352.80,220.11H450.10M352.80,230.25H450.10M352.80,240.38H450.10M352.80,250.52H450.10M352.80,260.66H450.10M352.80,270.79H450.10M352.80,280.93H450.10M352.80,291.06H450.10M352.80,301.20H450.10" stroke="#2a2a2a" stroke-width="1.05" fill="none"/>
<text x="301.9" y="54.1" font-size="8" class="it" fill="#1a1a1a"><tspan textLength="25.4" lengthAdjust="spacingAndGlyphs">DDX41</tspan><tspan font-size="5" dy="-2.6" textLength="21.3" lengthAdjust="spacingAndGlyphs">MutSom</tspan></text>
<text x="316.1" y="66.07" font-size="8.2" class="it" fill="#1a1a1a" textLength="33.2" lengthAdjust="spacingAndGlyphs">DNMT3A</text>
<text x="335.2" y="76.21" font-size="8.2" class="it" fill="#1a1a1a" textLength="14.1" lengthAdjust="spacingAndGlyphs">CBL</text>
<text x="328.8" y="86.34" font-size="8.2" class="it" fill="#1a1a1a" textLength="20.5" lengthAdjust="spacingAndGlyphs">CUX1</text>
<text x="326.1" y="96.48" font-size="8.2" class="it" fill="#1a1a1a" textLength="23.2" lengthAdjust="spacingAndGlyphs">ASXL1</text>
<text x="326.1" y="106.62" font-size="8.2" class="it" fill="#1a1a1a" textLength="23.2" lengthAdjust="spacingAndGlyphs">ASXL2</text>
<text x="327.9" y="116.75" font-size="8.2" class="it" fill="#1a1a1a" textLength="21.4" lengthAdjust="spacingAndGlyphs">BCOR</text>
<text x="319.7" y="126.89" font-size="8.2" class="it" fill="#1a1a1a" textLength="29.6" lengthAdjust="spacingAndGlyphs">CREBBP</text>
<text x="330.1" y="137.02" font-size="8.2" class="it" fill="#1a1a1a" textLength="19.2" lengthAdjust="spacingAndGlyphs">EZH2</text>
<text x="332.8" y="147.16" font-size="8.2" class="it" fill="#1a1a1a" textLength="16.5" lengthAdjust="spacingAndGlyphs">FLT3</text>
<text x="334.7" y="157.30" font-size="8.2" class="it" fill="#1a1a1a" textLength="14.6" lengthAdjust="spacingAndGlyphs">NF1</text>
<text x="327.7" y="167.43" font-size="8.2" class="it" fill="#1a1a1a" textLength="21.6" lengthAdjust="spacingAndGlyphs">NPM1</text>
<text x="330.7" y="177.57" font-size="8.2" class="it" fill="#1a1a1a" textLength="18.6" lengthAdjust="spacingAndGlyphs">PHF6</text>
<text x="322.8" y="187.70" font-size="8.2" class="it" fill="#1a1a1a" textLength="26.5" lengthAdjust="spacingAndGlyphs">PPM1D</text>
<text x="321" y="197.84" font-size="8.2" class="it" fill="#1a1a1a" textLength="28.3" lengthAdjust="spacingAndGlyphs">PTPN11</text>
<text x="323.7" y="207.98" font-size="8.2" class="it" fill="#1a1a1a" textLength="25.6" lengthAdjust="spacingAndGlyphs">RUNX1</text>
<text x="321.9" y="218.11" font-size="8.2" class="it" fill="#1a1a1a" textLength="27.4" lengthAdjust="spacingAndGlyphs">SETBP1</text>
<text x="327.9" y="228.25" font-size="8.2" class="it" fill="#1a1a1a" textLength="21.4" lengthAdjust="spacingAndGlyphs">SMC3</text>
<text x="327" y="238.38" font-size="8.2" class="it" fill="#1a1a1a" textLength="22.3" lengthAdjust="spacingAndGlyphs">SRSF2</text>
<text x="331.9" y="248.52" font-size="8.2" class="it" fill="#1a1a1a" textLength="17.4" lengthAdjust="spacingAndGlyphs">TET2</text>
<text x="331.9" y="258.66" font-size="8.2" class="it" fill="#1a1a1a" textLength="17.4" lengthAdjust="spacingAndGlyphs">TP53</text>
<text x="325" y="268.79" font-size="8.2" class="it" fill="#1a1a1a" textLength="24.3" lengthAdjust="spacingAndGlyphs">ETNK1</text>
<text x="324.3" y="278.93" font-size="8.2" class="it" fill="#1a1a1a" textLength="25.0" lengthAdjust="spacingAndGlyphs">CHEK2</text>
<text x="326.5" y="289.06" font-size="8.2" class="it" fill="#1a1a1a" textLength="22.8" lengthAdjust="spacingAndGlyphs">PRPF8</text>
<text x="325.5" y="299.20" font-size="8.2" class="it" fill="#1a1a1a" textLength="23.8" lengthAdjust="spacingAndGlyphs">U2AF1</text>
<text transform="translate(360.17,304.5) rotate(-90)" font-size="7" text-anchor="end" fill="#222">SAT16</text>
<text transform="translate(369.90,304.5) rotate(-90)" font-size="7" text-anchor="end" fill="#222">SLS18</text>
<text transform="translate(379.62,304.5) rotate(-90)" font-size="7" text-anchor="end" fill="#222">SLS11</text>
<text transform="translate(389.36,304.5) rotate(-90)" font-size="7" text-anchor="end" fill="#222">SLS23</text>
<text transform="translate(399.09,304.5) rotate(-90)" font-size="7" text-anchor="end" fill="#222">SLS19</text>
<text transform="translate(408.82,304.5) rotate(-90)" font-size="7" text-anchor="end" fill="#222">TLSE38489</text>
<text transform="translate(418.55,304.5) rotate(-90)" font-size="7" text-anchor="end" fill="#222">SLS27</text>
<text transform="translate(428.28,304.5) rotate(-90)" font-size="7" text-anchor="end" fill="#222">SLS10</text>
<text transform="translate(438.00,304.5) rotate(-90)" font-size="7" text-anchor="end" fill="#222">TLSE29449</text>
<text transform="translate(447.74,304.5) rotate(-90)" font-size="7" text-anchor="end" fill="#222">A20</text>
<line x1="351.9" y1="24.5" x2="351.9" y2="42.4" stroke="#333" stroke-width="0.9"/>
<line x1="351.5" y1="42.2" x2="450.1" y2="42.2" stroke="#333" stroke-width="0.9"/>
<line x1="349.6" y1="25.50" x2="351.9" y2="25.50" stroke="#333" stroke-width="0.8"/>
<text x="346" y="27.10" font-size="4.5" text-anchor="end" fill="#222">100</text>
<line x1="349.6" y1="33.65" x2="351.9" y2="33.65" stroke="#333" stroke-width="0.8"/>
<text x="346" y="35.25" font-size="4.5" text-anchor="end" fill="#222">10</text>
<line x1="349.6" y1="41.80" x2="351.9" y2="41.80" stroke="#333" stroke-width="0.8"/>
<text x="346" y="43.40" font-size="4.5" text-anchor="end" fill="#222">1</text>
<text transform="translate(335.3,33.4) rotate(-90)" font-size="5.4" text-anchor="middle" fill="#222">% Blasts</text>
<rect x="352.90" y="32.1" width="4.1" height="9.70" fill="#9094d8"/>
<rect x="357.10" y="29.7" width="4.3" height="12.10" fill="#f4a2a7"/>
<rect x="362.63" y="30.7" width="4.1" height="11.10" fill="#9094d8"/>
<rect x="366.83" y="32.3" width="4.3" height="9.50" fill="#f4a2a7"/>
<rect x="372.36" y="28.8" width="4.1" height="13.00" fill="#9094d8"/>
<rect x="376.56" y="31.5" width="4.3" height="10.30" fill="#f4a2a7"/>
<rect x="382.09" y="30.2" width="4.1" height="11.60" fill="#9094d8"/>
<rect x="386.29" y="30.2" width="4.3" height="11.60" fill="#f4a2a7"/>
<rect x="391.82" y="29.6" width="4.1" height="12.20" fill="#9094d8"/>
<rect x="396.02" y="34.1" width="4.3" height="7.70" fill="#f4a2a7"/>
<rect x="401.55" y="31.2" width="4.1" height="10.60" fill="#9094d8"/>
<rect x="405.75" y="29.0" width="4.3" height="12.80" fill="#f4a2a7"/>
<rect x="411.28" y="31.2" width="4.1" height="10.60" fill="#9094d8"/>
<rect x="415.48" y="30.5" width="4.3" height="11.30" fill="#f4a2a7"/>
<rect x="421.01" y="31.6" width="4.1" height="10.20" fill="#9094d8"/>
<rect x="425.21" y="29.8" width="4.3" height="12.00" fill="#f4a2a7"/>
<rect x="430.74" y="31.2" width="4.1" height="10.60" fill="#9094d8"/>
<rect x="434.94" y="31.5" width="4.3" height="10.30" fill="#f4a2a7"/>
<rect x="440.47" y="26.5" width="4.1" height="15.30" fill="#9094d8"/>
<rect x="444.67" y="31.3" width="4.3" height="10.50" fill="#f4a2a7"/>
<text x="453.2" y="57.6" font-size="7.8" class="b" fill="#111" textLength="37.7" lengthAdjust="spacingAndGlyphs">Timepoints</text>
<polygon points="454.3,62 462.4,62 454.3,68.5" fill="#9799dc"/>
<text x="465.6" y="68.2" font-size="7.8" fill="#1a1a1a" textLength="32.1" lengthAdjust="spacingAndGlyphs">Diagnosis</text>
<polygon points="462.4,73.3 462.4,80 454.3,80" fill="#f5a3a8"/>
<text x="465.6" y="78.8" font-size="7.8" fill="#1a1a1a" textLength="25.9" lengthAdjust="spacingAndGlyphs">Relapse</text>
<text x="453.2" y="89.7" font-size="7.8" class="b" fill="#111" textLength="60.2" lengthAdjust="spacingAndGlyphs">Mutational status</text>
<polygon points="454.3,96.6 462.4,96.6 454.3,103.8" fill="#8f8f8f"/><polygon points="462.4,96.6 462.4,103.8 454.3,103.8" fill="#8f8f8f"/><rect x="454.3" y="96.6" width="8.1" height="7.20" fill="none" stroke="#222" stroke-width="0.9"/><line x1="454.3" y1="103.8" x2="462.4" y2="96.6" stroke="#222" stroke-width="0.7"/>
<text x="465.6" y="103.2" font-size="7.8" fill="#1a1a1a" textLength="24.6" lengthAdjust="spacingAndGlyphs">Missing</text>
<polygon points="454.3,107.9 462.4,107.9 454.3,115.1" fill="#fff"/><polygon points="462.4,107.9 462.4,115.1 454.3,115.1" fill="#fff"/><rect x="454.3" y="107.9" width="8.1" height="7.20" fill="none" stroke="#222" stroke-width="0.9"/><line x1="454.3" y1="115.1" x2="462.4" y2="107.9" stroke="#222" stroke-width="0.7"/>
<text x="465.6" y="114.1" font-size="7.8" fill="#1a1a1a" textLength="32.1" lengthAdjust="spacingAndGlyphs">Wild-type</text>
<polygon points="454.3,119.3 462.4,119.3 454.3,126.8" fill="#9799dc"/><polygon points="462.4,119.3 462.4,126.8 454.3,126.8" fill="#f5a3a8"/>
<text x="465.6" y="126" font-size="7.8" fill="#1a1a1a" textLength="35.5" lengthAdjust="spacingAndGlyphs">1 mutation</text>
<polygon points="454.3,131 462.4,131 454.3,138.4" fill="#5c6cc6"/><polygon points="462.4,131 462.4,138.4 454.3,138.4" fill="#ec4d5c"/>
<text x="465.6" y="137.4" font-size="7.8" fill="#1a1a1a" textLength="38.7" lengthAdjust="spacingAndGlyphs">2 mutations</text>
<polygon points="454.3,144.4 462.4,144.4 454.3,152" fill="#1f55b3"/><polygon points="462.4,144.4 462.4,152 454.3,152" fill="#e5232c"/>
<text x="465.6" y="150.6" font-size="7.8" fill="#1a1a1a" textLength="38.7" lengthAdjust="spacingAndGlyphs">3 mutations</text>
<text transform="translate(5.3,406.5) scale(1.15,1)" font-size="11.5" class="b">D</text>
<text x="137.3" y="406.7" font-size="8.6" class="b" textLength="23.7" lengthAdjust="spacingAndGlyphs">SLS23</text>
<path d="M35,467.3 L48.5,466.6 C51.5,463 51,436 56,435 Q57,434.5 59,434.5 L82,434.5 C97.00,434.5 112.60,467.4 129.0,467.4 C112.60,467.4 97.00,501.3 82,501.3 L59,501.3 Q57,501.3 56,500.3 C51,499 51.5,472 48.5,468.2 Z" fill="#bfbec4"/>
<path d="M48.8,467.5 C52.8,464.5 54.3,451.5 59.5,451.5 L80,451.5 C91.00,451.5 112.70,467.4 129.0,467.4 C112.70,467.4 91.00,483.8 80,483.8 L59.5,483.8 C54.3,483.8 52.8,470.5 48.8,467.5 Z" fill="#c8102e"/>
<path d="M64,464 C66,456 70,453 75,452.9 L80,453.1 C91.00,453.1 112.20,467.4 129.0,467.4 C112.20,467.4 91.00,482.4 80,482.4 L75,482.3 C70,482 66,479 64,472 Z" fill="#fc9205"/>
<path d="M56.5,467.6 C60,466.8 62,465.8 64,463.2 C67,458.5 70,455.6 75,455.6 L79,455.7 C90.00,455.7 111.50,467.4 129.0,467.4 C111.50,467.4 90.00,479.8 79,479.8 L75,479.8 C70,479.8 67,477 64,472.2 C62,469.6 60,468.4 56.5,467.6 Z" fill="#fbb829"/>
<path d="M77,457.2 L82,457.4 C93.00,457.4 111.50,467.4 129.0,467.4 C112.00,467.4 96,473 82,473.2 L77,473.2 C74.3,473.2 74.3,457.2 77,457.2 Z" fill="#0c6b4f"/>
<path d="M77,472.7 L84,472.7 C98,472.6 112.00,467.4 129.0,467.4 C112.00,468.0 98,477.9 84,478 L77,478 C74.6,478 74.6,472.7 77,472.7 Z" fill="#3cb54a"/>
<line x1="128" y1="467.5" x2="132" y2="467.5" stroke="#d7dde0" stroke-width="0.7"/>
<path d="M131.3,467.8 C141,467.8 143,451.5 153.5,451.5 L182,451.5 L182,484 L153.5,484 C143,484 141,467.8 131.3,467.8 Z" fill="#0c6b4f"/>
<path d="M180.8,451.3 C168,451.8 163,467 154.2,468.1 C163,469.2 168,483.5 182,483.9 L211.8,483.9 L211.8,451.3 Z" fill="#29abe2"/>
<line x1="80.8" y1="427" x2="80.8" y2="519" stroke="#555" stroke-width="1.1"/>
<line x1="187.3" y1="427.3" x2="187.3" y2="519.2" stroke="#555" stroke-width="1.1"/>
<text x="80.5" y="527.3" font-size="6.3" text-anchor="middle" class="" fill="#1a1a1a">AML (BM, 30%)</text>
<text x="187.5" y="527.3" font-size="6.3" text-anchor="middle" class="" fill="#1a1a1a">AML (BM, 30%)</text>
<line x1="226.7" y1="433.9" x2="226.7" y2="501.3" stroke="#1a1a1a" stroke-width="1.2"/>
<line x1="224.2" y1="436.8" x2="226.7" y2="436.8" stroke="#1a1a1a" stroke-width="1"/>
<text x="221.7" y="439.0" font-size="6.2" text-anchor="end" class="" fill="#1a1a1a">20</text>
<line x1="224.2" y1="467.4" x2="226.7" y2="467.4" stroke="#1a1a1a" stroke-width="1"/>
<text x="221.7" y="469.59999999999997" font-size="6.2" text-anchor="end" class="" fill="#1a1a1a">10</text>
<line x1="224.2" y1="498.4" x2="226.7" y2="498.4" stroke="#1a1a1a" stroke-width="1"/>
<text x="221.7" y="500.59999999999997" font-size="6.2" text-anchor="end" class="" fill="#1a1a1a">0</text>
<text transform="translate(236.6,479) rotate(-90)" font-size="7.6" fill="#1a1a1a" textLength="22.4" lengthAdjust="spacingAndGlyphs">CCF (%)</text>
<text x="26.9" y="422.8" font-size="6.5" text-anchor="start" class="it" fill="#1a1a1a"><tspan textLength="20.2" lengthAdjust="spacingAndGlyphs">DDX41</tspan><tspan font-size="4.6" dy="-2.6" textLength="18.8" lengthAdjust="spacingAndGlyphs">MutSom</tspan></text>
<text x="26.9" y="429.5" font-size="6.5" text-anchor="start" class="it" fill="#1a1a1a">p.G530D</text>
<line x1="52.2" y1="431.5" x2="62.6" y2="448.1" stroke="#1a1a1a" stroke-width="0.9"/>
<text x="18.8" y="444.3" font-size="6.5" text-anchor="start" class="it" fill="#1a1a1a">CBL</text>
<text x="18.8" y="451.7" font-size="6.5" text-anchor="start" class="it" fill="#1a1a1a">p.C381Y</text>
<line x1="46.4" y1="450.4" x2="59.2" y2="458.4" stroke="#1a1a1a" stroke-width="0.9"/>
<text x="6.1" y="475.9" font-size="6.5" text-anchor="start" class="it" fill="#1a1a1a"><tspan textLength="19.7" lengthAdjust="spacingAndGlyphs">DDX41</tspan><tspan font-size="4.6" dy="-2.6" textLength="16.6" lengthAdjust="spacingAndGlyphs">MutGL</tspan></text>
<text x="6.1" y="483.5" font-size="6.5" text-anchor="start" class="it" fill="#1a1a1a">c.799-2A&gt;T</text>
<text x="24.9" y="493" font-size="6.5" text-anchor="start" class="it" fill="#1a1a1a">EZH2</text>
<text x="24.9" y="500.4" font-size="6.5" text-anchor="start" class="it" fill="#1a1a1a">p.N263fs</text>
<line x1="43.7" y1="491.9" x2="63.3" y2="472.1" stroke="#1a1a1a" stroke-width="0.9"/>
<text x="33.6" y="510.7" font-size="6.5" text-anchor="start" class="it" fill="#1a1a1a">SETBP1</text>
<text x="33.6" y="518.3" font-size="6.5" text-anchor="start" class="it" fill="#1a1a1a">p.G870S</text>
<line x1="53.2" y1="502.4" x2="69.3" y2="470.5" stroke="#1a1a1a" stroke-width="0.9"/>
<text x="111.4" y="438.5" font-size="6.5" text-anchor="start" class="it" fill="#1a1a1a">SETBP1</text>
<text x="111.4" y="446.3" font-size="6.5" text-anchor="start" class="it" fill="#1a1a1a">p.D868N</text>
<line x1="108.5" y1="446.5" x2="87.5" y2="463.8" stroke="#1a1a1a" stroke-width="0.9"/>
<text x="104.2" y="496.3" font-size="6.5" text-anchor="start" class="it" fill="#1a1a1a">ASXL1</text>
<text x="104.2" y="503.7" font-size="6.5" text-anchor="start" class="it" fill="#1a1a1a">p.R693X</text>
<line x1="102.4" y1="491" x2="91.3" y2="475" stroke="#1a1a1a" stroke-width="0.9"/>
<text x="149.5" y="433.7" font-size="6.5" text-anchor="start" class="it" fill="#1a1a1a">ASXL1</text>
<text x="149.5" y="441.4" font-size="6.5" text-anchor="start" class="it" fill="#1a1a1a">p.L775X</text>
<line x1="172.5" y1="443.4" x2="184.7" y2="457.6" stroke="#1a1a1a" stroke-width="0.9"/>
<line x1="41.5" y1="546.2" x2="41.5" y2="665.9" stroke="#1a1a1a" stroke-width="1.1"/>
<line x1="41" y1="665.4" x2="170" y2="665.4" stroke="#1a1a1a" stroke-width="1.1"/>
<line x1="38.8" y1="660.4" x2="41.5" y2="660.4" stroke="#1a1a1a" stroke-width="1"/>
<text x="34.6" y="663.0" font-size="7.4" text-anchor="end" class="" fill="#1a1a1a">0</text>
<line x1="38.8" y1="639.3249999999999" x2="41.5" y2="639.3249999999999" stroke="#1a1a1a" stroke-width="1"/>
<text x="34.6" y="641.925" font-size="7.4" text-anchor="end" class="" fill="#1a1a1a">2.5</text>
<line x1="38.8" y1="618.25" x2="41.5" y2="618.25" stroke="#1a1a1a" stroke-width="1"/>
<text x="34.6" y="620.85" font-size="7.4" text-anchor="end" class="" fill="#1a1a1a">5</text>
<line x1="38.8" y1="597.175" x2="41.5" y2="597.175" stroke="#1a1a1a" stroke-width="1"/>
<text x="34.6" y="599.775" font-size="7.4" text-anchor="end" class="" fill="#1a1a1a">7.5</text>
<line x1="38.8" y1="576.1" x2="41.5" y2="576.1" stroke="#1a1a1a" stroke-width="1"/>
<text x="34.6" y="578.7" font-size="7.4" text-anchor="end" class="" fill="#1a1a1a">10</text>
<line x1="38.8" y1="555.025" x2="41.5" y2="555.025" stroke="#1a1a1a" stroke-width="1"/>
<text x="34.6" y="557.625" font-size="7.4" text-anchor="end" class="" fill="#1a1a1a">12.5</text>
<line x1="43.5" y1="665.4" x2="43.5" y2="668.3" stroke="#1a1a1a" stroke-width="0.9"/>
<line x1="168.5" y1="665.4" x2="168.5" y2="668.3" stroke="#1a1a1a" stroke-width="0.9"/>
<text x="43.5" y="677.6" font-size="7.8" text-anchor="middle" class="" fill="#1a1a1a">AML (BM, 30%)</text>
<text x="168.5" y="677.6" font-size="7.8" text-anchor="middle" class="" fill="#1a1a1a">AML (BM, 30%)</text>
<text transform="translate(12.7,621.3) rotate(-90)" font-size="7.8" fill="#1a1a1a" textLength="25.3" lengthAdjust="spacingAndGlyphs">VAF (%)</text>
<line x1="44.2" y1="560.083" x2="169.2" y2="593.803" stroke="#c2c2c2" stroke-width="1.2"/>
<line x1="44.2" y1="593.803" x2="169.2" y2="602.233" stroke="#c8102e" stroke-width="1.2"/>
<line x1="44.2" y1="593.803" x2="169.2" y2="610.663" stroke="#fc9205" stroke-width="1.2"/>
<line x1="44.2" y1="610.663" x2="169.2" y2="627.523" stroke="#fbb829" stroke-width="1.2"/>
<line x1="44.2" y1="644.3829999999999" x2="169.2" y2="627.523" stroke="#7ccaa0" stroke-width="1.2"/>
<line x1="44.2" y1="644.3829999999999" x2="169.2" y2="660.4" stroke="#a6cb3c" stroke-width="1.2"/>
<line x1="44.2" y1="660.4" x2="169.2" y2="610.663" stroke="#29abe2" stroke-width="1.2"/>
<line x1="175.6" y1="552.2" x2="183.3" y2="552.2" stroke="#c2c2c2" stroke-width="1.6"/>
<text x="186.9" y="554.8000000000001" font-size="7.6" text-anchor="start" class="it" fill="#1a1a1a" textLength="56.6" lengthAdjust="spacingAndGlyphs">DDX41 p.G530D</text>
<line x1="175.6" y1="561.6500000000001" x2="183.3" y2="561.6500000000001" stroke="#c8102e" stroke-width="1.6"/>
<text x="186.9" y="564.2500000000001" font-size="7.6" text-anchor="start" class="it" fill="#1a1a1a" textLength="44.2" lengthAdjust="spacingAndGlyphs">CBL p.C381Y</text>
<line x1="175.6" y1="571.1" x2="183.3" y2="571.1" stroke="#fc9205" stroke-width="1.6"/>
<text x="186.9" y="573.7" font-size="7.6" text-anchor="start" class="it" fill="#1a1a1a" textLength="50.2" lengthAdjust="spacingAndGlyphs">EZH2 p.N263fs</text>
<line x1="175.6" y1="580.5500000000001" x2="183.3" y2="580.5500000000001" stroke="#fbb829" stroke-width="1.6"/>
<text x="186.9" y="583.1500000000001" font-size="7.6" text-anchor="start" class="it" fill="#1a1a1a" textLength="57" lengthAdjust="spacingAndGlyphs">SETPB1 p.G870S</text>
<line x1="175.6" y1="590.0" x2="183.3" y2="590.0" stroke="#7ccaa0" stroke-width="1.6"/>
<text x="186.9" y="592.6" font-size="7.6" text-anchor="start" class="it" fill="#1a1a1a" textLength="58.5" lengthAdjust="spacingAndGlyphs">SETBP1 p.D868N</text>
<line x1="175.6" y1="599.45" x2="183.3" y2="599.45" stroke="#a6cb3c" stroke-width="1.6"/>
<text x="186.9" y="602.0500000000001" font-size="7.6" text-anchor="start" class="it" fill="#1a1a1a" textLength="54.8" lengthAdjust="spacingAndGlyphs">ASXL1 p.R693X</text>
<line x1="175.6" y1="608.9000000000001" x2="183.3" y2="608.9000000000001" stroke="#29abe2" stroke-width="1.6"/>
<text x="186.9" y="611.5000000000001" font-size="7.6" text-anchor="start" class="it" fill="#1a1a1a" textLength="52.1" lengthAdjust="spacingAndGlyphs">ASXL1 p.L775X</text>
<text x="284.5" y="406" font-size="11" class="b">E</text>
<text x="407.3" y="406.1" font-size="8.6" class="b" textLength="16.2" lengthAdjust="spacingAndGlyphs">A20</text>
<path d="M303,468.1 L319.3,467.6 C324,467.2 327.4,457 331.3,449.6 C335,442.3 339,433.5 346.5,433.5 L402.3,433.5 C408.3,433.5 418.8,468.1 426.8,468.1 C418.8,468.1 408.3,502.5 402.3,502.5 L346.5,502.5 C339,502.5 335,493.8 331.3,486.5 C327.4,479 324,468.9 319.3,468.6 L303,468.3 Z" fill="#c3c9cd"/>
<path d="M322.7,468.1 C326.5,467.6 329.5,457 333,450 C336.5,443 340,433.9 347,433.9 L402.3,433.9 C407.80,433.9 417.80,468.1 425.6,468.1 C417.80,468.1 407.80,501.8 402.3,501.8 L347,501.8 C340,501.8 336.5,493.2 333,486.2 C329.5,479.2 326.5,468.6 322.7,468.1 Z" fill="#c8102e"/>
<path d="M346.8,435.0 L401.3,435.0 C406.80,435.0 416.30,468.1 425.6,468.1 C416.30,468.1 406.80,500.9 401.3,500.9 L346.8,500.9 C345.2,494 342.3,484 341.4,477.5 L340.8,470.6 L334.7,468.3 L340.8,466 L341.2,458.6 C342,451 344.8,440 346.8,435.1 Z" fill="#fc9205"/>
<path d="M361.9,468.2 L425.6,468.1 C414.10,468.1 405.30,499.8 399.8,499.8 L361.9,499.8 L361.9,489.5 L356.5,485.6 L361.9,481.8 Z" fill="#fbb829"/>
<path d="M361.5,435.2 L399.3,435.2 C404.80,435.2 414.30,468.1 425.6,468.1 L385,468.1 L385,438 L361,438 Z" fill="#29abe2"/>
<path d="M362,437.0 L398.3,437.0 C403.80,437.0 413.30,468.1 425.6,468.1 L385,468.1 L385,441.5 L362,441.5 Q359.9,441.5 359.9,439.25 Q359.9,437.0 362,437.0 Z" fill="#0c6b4f"/>
<path d="M361.9,440.8 L395.8,440.8 C400.80,440.8 410.60,468.1 425.6,468.1 L425.6,468.1 L361.9,468.6 L361.9,459.5 L357.2,455.3 L361.9,451 Z" fill="#3cb54a"/>
<line x1="425" y1="467.9" x2="429" y2="467.9" stroke="#d7dde0" stroke-width="0.7"/>
<path d="M427.5,467.9 C440,467.9 441,453.3 453,453.3 L483.3,453.3 L483.3,482.6 L453,482.6 C441,482.6 440,467.9 427.5,467.9 Z" fill="#bfbec4"/>
<path d="M428,468 C440,467.5 443,463.8 452.3,463.7 L483.3,463.7 L483.3,472.5 L452.3,472.5 C443,472.4 440,468.5 428,468 Z" fill="#6495c4"/>
<path d="M453.6,468.2 L455.2,464.6 L483.3,464.6 L483.3,471.7 L455.2,471.7 Z" fill="#14578f"/>
<line x1="367.3" y1="424.5" x2="367.3" y2="521" stroke="#555" stroke-width="1.1"/>
<line x1="477.1" y1="424.4" x2="477.1" y2="519.6" stroke="#555" stroke-width="1.1"/>
<text x="367.5" y="527.8" font-size="6.3" text-anchor="middle" class="" fill="#1a1a1a">AML (BM, 90%)</text>
<text x="477.1" y="527.5" font-size="6.3" text-anchor="middle" class="" fill="#1a1a1a">AML (BM, 22%)</text>
<line x1="501.3" y1="431.2" x2="501.3" y2="504.9" stroke="#1a1a1a" stroke-width="1.2"/>
<line x1="499.1" y1="433.2" x2="501.3" y2="433.2" stroke="#1a1a1a" stroke-width="1"/>
<text x="497.1" y="435.4" font-size="6.3" text-anchor="end" class="" fill="#1a1a1a">100</text>
<line x1="499.1" y1="468.7" x2="501.3" y2="468.7" stroke="#1a1a1a" stroke-width="1"/>
<text x="497.1" y="470.9" font-size="6.3" text-anchor="end" class="" fill="#1a1a1a">50</text>
<line x1="499.1" y1="502.6" x2="501.3" y2="502.6" stroke="#1a1a1a" stroke-width="1"/>
<text x="497.1" y="504.8" font-size="6.3" text-anchor="end" class="" fill="#1a1a1a">0</text>
<text transform="translate(512.2,479.2) rotate(-90)" font-size="7.6" fill="#1a1a1a" textLength="22.4" lengthAdjust="spacingAndGlyphs">CCF (%)</text>
<text x="317.1" y="424.2" font-size="6.5" text-anchor="start" class="it" fill="#1a1a1a">NPM1</text>
<text x="317.1" y="432.5" font-size="6.5" text-anchor="start" class="it" fill="#1a1a1a">p.W288fs</text>
<line x1="327.1" y1="436" x2="339.2" y2="455.9" stroke="#1a1a1a" stroke-width="0.9"/>
<text x="291.1" y="441.2" font-size="6.5" text-anchor="start" class="it" fill="#1a1a1a">DNMT3A</text>
<text x="291.1" y="448.9" font-size="6.5" text-anchor="start" class="it" fill="#1a1a1a">p.R882H</text>
<line x1="304.6" y1="451.5" x2="315.5" y2="468.3" stroke="#1a1a1a" stroke-width="0.9"/>
<text x="280.1" y="476.8" font-size="6.5" text-anchor="start" class="it" fill="#1a1a1a"><tspan textLength="20.5" lengthAdjust="spacingAndGlyphs">DDX41</tspan><tspan font-size="4.6" dy="-2.6" textLength="12.5" lengthAdjust="spacingAndGlyphs">MutGL</tspan></text>
<text x="280.1" y="484.2" font-size="6.5" text-anchor="start" class="it" fill="#1a1a1a">p.V445del</text>
<text x="309.3" y="495.6" font-size="6.5" text-anchor="start" class="it" fill="#1a1a1a">SMC3</text>
<text x="309.3" y="503" font-size="6.5" text-anchor="start" class="it" fill="#1a1a1a">p.D392Y</text>
<line x1="328.8" y1="492.3" x2="356.3" y2="476.3" stroke="#1a1a1a" stroke-width="0.9"/>
<text x="343.6" y="421.8" font-size="6.5" text-anchor="start" class="it" fill="#1a1a1a">FLT3-ITD39</text>
<line x1="357.5" y1="424.5" x2="365" y2="435.5" stroke="#1a1a1a" stroke-width="0.9"/>
<text x="400.4" y="424.8" font-size="6.5" text-anchor="start" class="it" fill="#1a1a1a">FLT3-ITD27</text>
<line x1="401.8" y1="427.5" x2="391.6" y2="437.4" stroke="#1a1a1a" stroke-width="0.9"/>
<text x="414.8" y="439" font-size="6.5" text-anchor="start" class="it" fill="#1a1a1a">FLT3-ITD75</text>
<line x1="412.3" y1="440.8" x2="397.5" y2="457.1" stroke="#1a1a1a" stroke-width="0.9"/>
<text x="391.6" y="515.5" font-size="6.5" text-anchor="start" class="it" fill="#1a1a1a">FLT3-ITD93</text>
<line x1="392.5" y1="508.4" x2="376.8" y2="491.6" stroke="#1a1a1a" stroke-width="0.9"/>
<text x="453.7" y="442.5" font-size="6.5" text-anchor="start" class="it" fill="#1a1a1a">U2AF1</text>
<text x="453.7" y="450" font-size="6.5" text-anchor="start" class="it" fill="#1a1a1a">p.S34F</text>
<line x1="463.3" y1="452.3" x2="465.2" y2="467.7" stroke="#1a1a1a" stroke-width="0.9"/>
<text x="422.9" y="492.3" font-size="6.5" text-anchor="start" class="it" fill="#1a1a1a"><tspan textLength="20.2" lengthAdjust="spacingAndGlyphs">DDX41</tspan><tspan font-size="4.6" dy="-2.6" textLength="19.8" lengthAdjust="spacingAndGlyphs">MutSom</tspan></text>
<text x="422.9" y="500.6" font-size="6.5" text-anchor="start" class="it" fill="#1a1a1a">p.R525H</text>
<line x1="434.4" y1="485" x2="448.8" y2="468.7" stroke="#1a1a1a" stroke-width="0.9"/>
<line x1="303.3" y1="546.2" x2="303.3" y2="665.1" stroke="#1a1a1a" stroke-width="1.1"/>
<line x1="302.8" y1="664.6" x2="437" y2="664.6" stroke="#1a1a1a" stroke-width="1.1"/>
<line x1="300.6" y1="660.1" x2="303.3" y2="660.1" stroke="#1a1a1a" stroke-width="1"/>
<text x="297.6" y="663.0" font-size="8.2" text-anchor="end" class="" fill="#1a1a1a">0</text>
<line x1="300.6" y1="637.2" x2="303.3" y2="637.2" stroke="#1a1a1a" stroke-width="1"/>
<text x="297.6" y="640.1" font-size="8.2" text-anchor="end" class="" fill="#1a1a1a">10</text>
<line x1="300.6" y1="614.3000000000001" x2="303.3" y2="614.3000000000001" stroke="#1a1a1a" stroke-width="1"/>
<text x="297.6" y="617.2" font-size="8.2" text-anchor="end" class="" fill="#1a1a1a">20</text>
<line x1="300.6" y1="591.4" x2="303.3" y2="591.4" stroke="#1a1a1a" stroke-width="1"/>
<text x="297.6" y="594.3" font-size="8.2" text-anchor="end" class="" fill="#1a1a1a">30</text>
<line x1="300.6" y1="568.5" x2="303.3" y2="568.5" stroke="#1a1a1a" stroke-width="1"/>
<text x="297.6" y="571.4" font-size="8.2" text-anchor="end" class="" fill="#1a1a1a">40</text>
<line x1="307.8" y1="664.6" x2="307.8" y2="667.5" stroke="#1a1a1a" stroke-width="0.9"/>
<line x1="435.8" y1="664.6" x2="435.8" y2="667.5" stroke="#1a1a1a" stroke-width="0.9"/>
<text x="307.8" y="677.3" font-size="7.8" text-anchor="middle" class="" fill="#1a1a1a">AML (BM, 90%)</text>
<text x="435.8" y="677.3" font-size="7.8" text-anchor="middle" class="" fill="#1a1a1a">AML (BM, 22%)</text>
<text transform="translate(280.6,619.1) rotate(-90)" font-size="7.6" fill="#1a1a1a" textLength="26.6" lengthAdjust="spacingAndGlyphs">VAF (%)</text>
<line x1="307.8" y1="552.47" x2="435.8" y2="612.01" stroke="#c8c8c8" stroke-width="1.2"/>
<line x1="307.8" y1="566.21" x2="435.8" y2="660.1" stroke="#c8102e" stroke-width="1.2"/>
<line x1="307.8" y1="568.5" x2="435.8" y2="660.1" stroke="#fc9205" stroke-width="1.2"/>
<line x1="307.8" y1="607.4300000000001" x2="435.8" y2="660.1" stroke="#fbb829" stroke-width="1.2"/>
<line x1="307.8" y1="614.3000000000001" x2="435.8" y2="660.1" stroke="#3cb54a" stroke-width="1.2"/>
<line x1="307.8" y1="653.23" x2="435.8" y2="660.1" stroke="#0c6b4f" stroke-width="1.2"/>
<line x1="307.8" y1="657.8100000000001" x2="435.8" y2="660.1" stroke="#29abe2" stroke-width="1.2"/>
<line x1="307.8" y1="660.1" x2="435.8" y2="646.36" stroke="#7aa2cc" stroke-width="1.2"/>
<line x1="307.8" y1="660.1" x2="435.8" y2="648.65" stroke="#2e5f95" stroke-width="1.2"/>
<line x1="441.2" y1="552.5" x2="451.6" y2="552.5" stroke="#c8c8c8" stroke-width="1.6"/>
<text x="453.9" y="555.1" font-size="7.6" text-anchor="start" class="it" fill="#1a1a1a" textLength="59.2" lengthAdjust="spacingAndGlyphs">DNMT3A p.R882H</text>
<line x1="441.2" y1="562.25" x2="451.6" y2="562.25" stroke="#c8102e" stroke-width="1.6"/>
<text x="453.9" y="564.85" font-size="7.6" text-anchor="start" class="it" fill="#1a1a1a" textLength="57.1" lengthAdjust="spacingAndGlyphs">NPM1 p.W288Cfs</text>
<line x1="441.2" y1="572.0" x2="451.6" y2="572.0" stroke="#fc9205" stroke-width="1.6"/>
<text x="453.9" y="574.6" font-size="7.6" text-anchor="start" class="it" fill="#1a1a1a" textLength="47.9" lengthAdjust="spacingAndGlyphs">SMC3 p.D392Y</text>
<line x1="441.2" y1="581.75" x2="451.6" y2="581.75" stroke="#fbb829" stroke-width="1.6"/>
<text x="453.9" y="584.35" font-size="7.6" text-anchor="start" class="it" fill="#1a1a1a" textLength="36.3" lengthAdjust="spacingAndGlyphs">FLT3-ITD93</text>
<line x1="441.2" y1="591.5" x2="451.6" y2="591.5" stroke="#3cb54a" stroke-width="1.6"/>
<text x="453.9" y="594.1" font-size="7.6" text-anchor="start" class="it" fill="#1a1a1a" textLength="36.3" lengthAdjust="spacingAndGlyphs">FLT3-ITD75</text>
<line x1="441.2" y1="601.25" x2="451.6" y2="601.25" stroke="#0c6b4f" stroke-width="1.6"/>
<text x="453.9" y="603.85" font-size="7.6" text-anchor="start" class="it" fill="#1a1a1a" textLength="36.3" lengthAdjust="spacingAndGlyphs">FLT3-ITD27</text>
<line x1="441.2" y1="611.0" x2="451.6" y2="611.0" stroke="#29abe2" stroke-width="1.6"/>
<text x="453.9" y="613.6" font-size="7.6" text-anchor="start" class="it" fill="#1a1a1a" textLength="36.3" lengthAdjust="spacingAndGlyphs">FLT3-ITD39</text>
<line x1="441.2" y1="620.75" x2="451.6" y2="620.75" stroke="#7aa2cc" stroke-width="1.6"/>
<text x="453.9" y="623.35" font-size="7.6" text-anchor="start" class="it" fill="#1a1a1a" textLength="52.3" lengthAdjust="spacingAndGlyphs">DDX41 p.R525H</text>
<line x1="441.2" y1="630.5" x2="451.6" y2="630.5" stroke="#2e5f95" stroke-width="1.6"/>
<text x="453.9" y="633.1" font-size="7.6" text-anchor="start" class="it" fill="#1a1a1a" textLength="46.7" lengthAdjust="spacingAndGlyphs">U2AF1 p.S34F</text>
<rect x="0.5" y="0.5" width="519" height="684" fill="none" stroke="#000" stroke-width="1"/>
</svg>
</body></html>
